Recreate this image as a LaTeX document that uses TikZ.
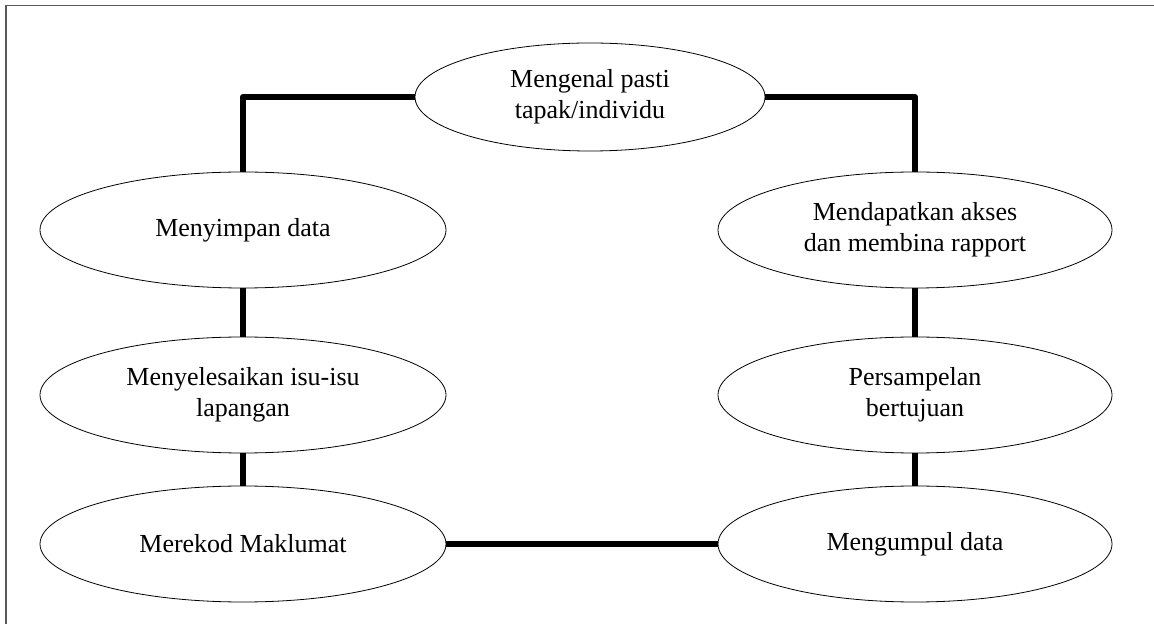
\documentclass[tikz,border=0pt]{standalone}
\usepackage{fontspec}
\setmainfont{Liberation Serif}
\usepackage{tikz}
\usetikzlibrary{positioning}
\usetikzlibrary{shapes}

\begin{document}
\begin{tikzpicture}[x = 1pt, y = 1pt, on grid,
                    node distance = 165pt and 347pt,
                    link/.style  = {line width = 6pt,
                                    line join = round,
                                    black},
                    phase/.style = {ellipse,
                                    draw,
                                    black,
                                    line width = 0.8pt,
                                    text = black,
                                    align = center,
                                    inner sep = 0pt,
                                    font = \fontsize{26}{31}\selectfont,
                                    minimum width = 406pt,
                                    minimum height = 116pt},
                    rphase/.style = {phase,
                                    minimum width = 394pt}]

\useasboundingbox (0,0) rectangle (1154,624);
\draw[gray!70!black, line width = 1.5pt] (6,0) -- (6,618.5) -- (1154,618.5);

\node[phase, minimum width = 350pt, minimum height = 108pt] (kenal) at (590,527)
     {Mengenal pasti\\tapak/individu};
\node[phase] (simpan) at (243,394) {Menyimpan data};
\node[phase] (isu) [below = of simpan] {Menyelesaikan isu-isu\\lapangan};
\node[phase] (rekod) [below = 149pt of isu] {Merekod Maklumat};
\node[rphase] (akses) [right = 672pt of simpan] {Mendapatkan akses\\dan membina rapport};
\node[rphase] (sampel) [right = 672pt of isu] {Persampelan\\bertujuan};
\node[rphase] (kumpul) [right = 672pt of rekod] {Mengumpul data};

\draw[link] (simpan.north) |- (kenal.west);
\draw[link] (kenal.east) -| (akses.north);
\draw[link] (akses) -- (sampel);
\draw[link] (sampel) -- (kumpul);
\draw[link] (kumpul) -- (rekod);
\draw[link] (rekod) -- (isu);
\draw[link] (isu) -- (simpan);

\end{tikzpicture}
\end{document}
